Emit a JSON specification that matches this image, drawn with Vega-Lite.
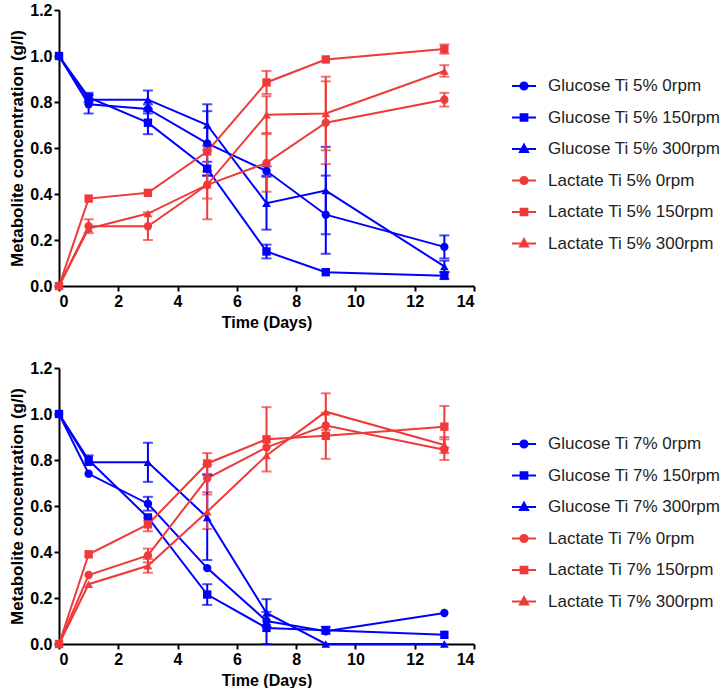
{
  "$schema": "https://vega.github.io/schema/vega-lite/v6.json",
  "padding": {"left": 8, "top": 2, "right": 0, "bottom": 0},
  "spacing": 30,
  "background": "white",
  "config": {
    "view": {"stroke": null},
    "axis": {"domainColor": "#000", "domainWidth": 2, "tickColor": "#000", "tickWidth": 2, "tickSize": 5, "labelFont": "Liberation Sans", "labelFontWeight": "bold", "labelFontSize": 16, "labelColor": "#000", "labelPadding": 2, "titleFont": "Liberation Sans", "titleFontWeight": "bold", "titleFontSize": 16, "titleColor": "#000", "grid": false},
    "legend": {"orient": "none", "legendX": 452, "legendY": 63, "padding": 0, "symbolSize": 576, "symbolStrokeWidth": 2, "symbolOpacity": 1, "labelFont": "Liberation Sans", "labelFontSize": 17, "labelColor": "#222", "labelOffset": 11, "rowPadding": 10.5, "labelLimit": 300}
  },
  "resolve": {"scale": {"color": "independent"}},
  "datasets": {
    "p5": [
      {"s": "Glucose Ti 5% 0rpm", "t": 0, "v": 1.0, "lo": null, "hi": null},
      {"s": "Glucose Ti 5% 0rpm", "t": 1, "v": 0.79, "lo": 0.75, "hi": 0.83},
      {"s": "Glucose Ti 5% 0rpm", "t": 3, "v": 0.77, "lo": 0.75, "hi": 0.79},
      {"s": "Glucose Ti 5% 0rpm", "t": 5, "v": 0.62, "lo": 0.48, "hi": 0.76},
      {"s": "Glucose Ti 5% 0rpm", "t": 7, "v": 0.5, "lo": 0.48, "hi": 0.52},
      {"s": "Glucose Ti 5% 0rpm", "t": 9, "v": 0.31, "lo": 0.14, "hi": 0.48},
      {"s": "Glucose Ti 5% 0rpm", "t": 13, "v": 0.17, "lo": 0.12, "hi": 0.22},
      {"s": "Glucose Ti 5% 150rpm", "t": 0, "v": 1.0, "lo": null, "hi": null},
      {"s": "Glucose Ti 5% 150rpm", "t": 1, "v": 0.82, "lo": 0.8, "hi": 0.84},
      {"s": "Glucose Ti 5% 150rpm", "t": 3, "v": 0.71, "lo": 0.66, "hi": 0.76},
      {"s": "Glucose Ti 5% 150rpm", "t": 5, "v": 0.51, "lo": 0.48, "hi": 0.54},
      {"s": "Glucose Ti 5% 150rpm", "t": 7, "v": 0.15, "lo": 0.12, "hi": 0.18},
      {"s": "Glucose Ti 5% 150rpm", "t": 9, "v": 0.06, "lo": null, "hi": null},
      {"s": "Glucose Ti 5% 150rpm", "t": 13, "v": 0.045, "lo": 0.03, "hi": 0.06},
      {"s": "Glucose Ti 5% 300rpm", "t": 0, "v": 1.0, "lo": null, "hi": null},
      {"s": "Glucose Ti 5% 300rpm", "t": 1, "v": 0.81, "lo": null, "hi": null},
      {"s": "Glucose Ti 5% 300rpm", "t": 3, "v": 0.81, "lo": 0.77, "hi": 0.85},
      {"s": "Glucose Ti 5% 300rpm", "t": 5, "v": 0.7, "lo": 0.61, "hi": 0.79},
      {"s": "Glucose Ti 5% 300rpm", "t": 7, "v": 0.36, "lo": 0.245, "hi": 0.475},
      {"s": "Glucose Ti 5% 300rpm", "t": 9, "v": 0.415, "lo": 0.225, "hi": 0.605},
      {"s": "Glucose Ti 5% 300rpm", "t": 13, "v": 0.085, "lo": 0.06, "hi": 0.11},
      {"s": "Lactate Ti 5% 0rpm", "t": 0, "v": 0.0, "lo": null, "hi": null},
      {"s": "Lactate Ti 5% 0rpm", "t": 1, "v": 0.26, "lo": 0.23, "hi": 0.29},
      {"s": "Lactate Ti 5% 0rpm", "t": 3, "v": 0.26, "lo": 0.2, "hi": 0.32},
      {"s": "Lactate Ti 5% 0rpm", "t": 5, "v": 0.44, "lo": 0.29, "hi": 0.59},
      {"s": "Lactate Ti 5% 0rpm", "t": 7, "v": 0.535, "lo": 0.41, "hi": 0.66},
      {"s": "Lactate Ti 5% 0rpm", "t": 9, "v": 0.71, "lo": 0.53, "hi": 0.89},
      {"s": "Lactate Ti 5% 0rpm", "t": 13, "v": 0.81, "lo": 0.78, "hi": 0.84},
      {"s": "Lactate Ti 5% 150rpm", "t": 0, "v": 0.0, "lo": null, "hi": null},
      {"s": "Lactate Ti 5% 150rpm", "t": 1, "v": 0.38, "lo": null, "hi": null},
      {"s": "Lactate Ti 5% 150rpm", "t": 3, "v": 0.405, "lo": null, "hi": null},
      {"s": "Lactate Ti 5% 150rpm", "t": 5, "v": 0.585, "lo": null, "hi": null},
      {"s": "Lactate Ti 5% 150rpm", "t": 7, "v": 0.885, "lo": 0.835, "hi": 0.935},
      {"s": "Lactate Ti 5% 150rpm", "t": 9, "v": 0.985, "lo": null, "hi": null},
      {"s": "Lactate Ti 5% 150rpm", "t": 13, "v": 1.03, "lo": 1.01, "hi": 1.05},
      {"s": "Lactate Ti 5% 300rpm", "t": 0, "v": 0.0, "lo": null, "hi": null},
      {"s": "Lactate Ti 5% 300rpm", "t": 1, "v": 0.25, "lo": null, "hi": null},
      {"s": "Lactate Ti 5% 300rpm", "t": 3, "v": 0.315, "lo": null, "hi": null},
      {"s": "Lactate Ti 5% 300rpm", "t": 5, "v": 0.44, "lo": 0.38, "hi": 0.5},
      {"s": "Lactate Ti 5% 300rpm", "t": 7, "v": 0.745, "lo": 0.665, "hi": 0.825},
      {"s": "Lactate Ti 5% 300rpm", "t": 9, "v": 0.75, "lo": 0.59, "hi": 0.91},
      {"s": "Lactate Ti 5% 300rpm", "t": 13, "v": 0.935, "lo": 0.91, "hi": 0.96}
    ],
    "p7": [
      {"s": "Glucose Ti 7% 0rpm", "t": 0, "v": 1.0, "lo": null, "hi": null},
      {"s": "Glucose Ti 7% 0rpm", "t": 1, "v": 0.74, "lo": null, "hi": null},
      {"s": "Glucose Ti 7% 0rpm", "t": 3, "v": 0.61, "lo": 0.58, "hi": 0.64},
      {"s": "Glucose Ti 7% 0rpm", "t": 5, "v": 0.33, "lo": null, "hi": null},
      {"s": "Glucose Ti 7% 0rpm", "t": 7, "v": 0.1, "lo": null, "hi": null},
      {"s": "Glucose Ti 7% 0rpm", "t": 9, "v": 0.055, "lo": null, "hi": null},
      {"s": "Glucose Ti 7% 0rpm", "t": 13, "v": 0.135, "lo": null, "hi": null},
      {"s": "Glucose Ti 7% 150rpm", "t": 0, "v": 1.0, "lo": null, "hi": null},
      {"s": "Glucose Ti 7% 150rpm", "t": 1, "v": 0.8, "lo": 0.78, "hi": 0.82},
      {"s": "Glucose Ti 7% 150rpm", "t": 3, "v": 0.55, "lo": null, "hi": null},
      {"s": "Glucose Ti 7% 150rpm", "t": 5, "v": 0.215, "lo": 0.17, "hi": 0.26},
      {"s": "Glucose Ti 7% 150rpm", "t": 7, "v": 0.07, "lo": 0.0, "hi": 0.14},
      {"s": "Glucose Ti 7% 150rpm", "t": 9, "v": 0.06, "lo": 0.045, "hi": 0.075},
      {"s": "Glucose Ti 7% 150rpm", "t": 13, "v": 0.04, "lo": null, "hi": null},
      {"s": "Glucose Ti 7% 300rpm", "t": 0, "v": 1.0, "lo": null, "hi": null},
      {"s": "Glucose Ti 7% 300rpm", "t": 1, "v": 0.79, "lo": null, "hi": null},
      {"s": "Glucose Ti 7% 300rpm", "t": 3, "v": 0.79, "lo": 0.705, "hi": 0.875},
      {"s": "Glucose Ti 7% 300rpm", "t": 5, "v": 0.55, "lo": 0.365, "hi": 0.735},
      {"s": "Glucose Ti 7% 300rpm", "t": 7, "v": 0.135, "lo": 0.075, "hi": 0.195},
      {"s": "Glucose Ti 7% 300rpm", "t": 9, "v": 0.0, "lo": null, "hi": null},
      {"s": "Glucose Ti 7% 300rpm", "t": 13, "v": 0.0, "lo": null, "hi": null},
      {"s": "Lactate Ti 7% 0rpm", "t": 0, "v": 0.0, "lo": null, "hi": null},
      {"s": "Lactate Ti 7% 0rpm", "t": 1, "v": 0.3, "lo": null, "hi": null},
      {"s": "Lactate Ti 7% 0rpm", "t": 3, "v": 0.385, "lo": 0.355, "hi": 0.415},
      {"s": "Lactate Ti 7% 0rpm", "t": 5, "v": 0.72, "lo": 0.66, "hi": 0.78},
      {"s": "Lactate Ti 7% 0rpm", "t": 7, "v": 0.855, "lo": null, "hi": null},
      {"s": "Lactate Ti 7% 0rpm", "t": 9, "v": 0.95, "lo": null, "hi": null},
      {"s": "Lactate Ti 7% 0rpm", "t": 13, "v": 0.845, "lo": 0.8, "hi": 0.89},
      {"s": "Lactate Ti 7% 150rpm", "t": 0, "v": 0.0, "lo": null, "hi": null},
      {"s": "Lactate Ti 7% 150rpm", "t": 1, "v": 0.39, "lo": null, "hi": null},
      {"s": "Lactate Ti 7% 150rpm", "t": 3, "v": 0.52, "lo": 0.49, "hi": 0.55},
      {"s": "Lactate Ti 7% 150rpm", "t": 5, "v": 0.785, "lo": 0.74, "hi": 0.83},
      {"s": "Lactate Ti 7% 150rpm", "t": 7, "v": 0.89, "lo": 0.75, "hi": 1.03},
      {"s": "Lactate Ti 7% 150rpm", "t": 9, "v": 0.905, "lo": 0.805, "hi": 1.005},
      {"s": "Lactate Ti 7% 150rpm", "t": 13, "v": 0.945, "lo": 0.855, "hi": 1.035},
      {"s": "Lactate Ti 7% 300rpm", "t": 0, "v": 0.0, "lo": null, "hi": null},
      {"s": "Lactate Ti 7% 300rpm", "t": 1, "v": 0.26, "lo": null, "hi": null},
      {"s": "Lactate Ti 7% 300rpm", "t": 3, "v": 0.34, "lo": 0.31, "hi": 0.37},
      {"s": "Lactate Ti 7% 300rpm", "t": 5, "v": 0.575, "lo": 0.5, "hi": 0.65},
      {"s": "Lactate Ti 7% 300rpm", "t": 7, "v": 0.82, "lo": null, "hi": null},
      {"s": "Lactate Ti 7% 300rpm", "t": 9, "v": 1.01, "lo": 0.93, "hi": 1.09},
      {"s": "Lactate Ti 7% 300rpm", "t": 13, "v": 0.865, "lo": 0.83, "hi": 0.9}
    ]
  },
  "vconcat": [
    {
      "width": 415, "height": 276,
      "data": {"name": "p5"},
      "layer": [
        {
          "mark": {"type": "line", "strokeWidth": 2},
          "encoding": {
            "x": {"field": "t", "type": "quantitative", "scale": {"domain": [0, 14], "nice": false}, "axis": {"values": [0, 2, 4, 6, 8, 10, 12, 14], "format": "d", "title": "Time (Days)", "titlePadding": 5}},
            "y": {"field": "v", "type": "quantitative", "scale": {"domain": [0, 1.2], "nice": false}, "axis": {"values": [0, 0.2, 0.4, 0.6, 0.8, 1.0, 1.2], "format": ".1f", "title": "Metabolite concentration (g/l)", "titleFontSize": 17, "titlePadding": 3}},
            "color": {"field": "s", "type": "nominal", "scale": {"domain": ["Glucose Ti 5% 0rpm", "Glucose Ti 5% 150rpm", "Glucose Ti 5% 300rpm", "Lactate Ti 5% 0rpm", "Lactate Ti 5% 150rpm", "Lactate Ti 5% 300rpm"], "range": ["#0000ff", "#0000ff", "#0000ff", "#ef3a3a", "#ef3a3a", "#ef3a3a"]},
              "legend": {"title": null, "encode": {"symbols": {"update": {
                "shape": {"signal": "test(/ 0rpm$/, datum.value) ? 'M-1,0H1M-0.3,0A0.3,0.3 0 1,0 0.3,0A0.3,0.3 0 1,0 -0.3,0Z' : test(/ 150rpm$/, datum.value) ? 'M-1,0H1M-0.28,-0.28H0.28V0.28H-0.28Z' : 'M-1,0H1M0,-0.36L0.34,0.26H-0.34Z'"},
                "fill": {"signal": "test(/^Glucose/, datum.value) ? '#0000ff' : '#ef3a3a'"},
                "stroke": {"signal": "test(/^Glucose/, datum.value) ? '#0000ff' : '#ef3a3a'"},
                "strokeWidth": {"value": 2},
                "size": {"value": 576},
                "opacity": {"value": 1}
              }}}}
            }
          }
        },
        {
          "transform": [{"filter": "datum.lo != null"}],
          "mark": {"type": "errorbar", "ticks": {"size": 10, "thickness": 2}, "thickness": 2},
          "encoding": {
            "x": {"field": "t", "type": "quantitative"},
            "y": {"field": "lo", "type": "quantitative", "title": "Metabolite concentration (g/l)"},
            "y2": {"field": "hi"},
            "color": {"field": "s", "type": "nominal"}
          }
        },
        {
          "transform": [{"filter": "test(/ 0rpm$/, datum.s)"}],
          "mark": {"type": "point", "filled": true, "opacity": 1, "size": 70, "shape": "circle"},
          "encoding": {
            "x": {"field": "t", "type": "quantitative"},
            "y": {"field": "v", "type": "quantitative", "title": "Metabolite concentration (g/l)"},
            "color": {"field": "s", "type": "nominal"}
          }
        },
        {
          "transform": [{"filter": "test(/ 150rpm$/, datum.s)"}],
          "mark": {"type": "point", "filled": true, "opacity": 1, "size": 70, "shape": "square"},
          "encoding": {
            "x": {"field": "t", "type": "quantitative"},
            "y": {"field": "v", "type": "quantitative", "title": "Metabolite concentration (g/l)"},
            "color": {"field": "s", "type": "nominal"}
          }
        },
        {
          "transform": [{"filter": "test(/ 300rpm$/, datum.s)"}],
          "mark": {"type": "point", "filled": true, "opacity": 1, "size": 75, "shape": "triangle-up"},
          "encoding": {
            "x": {"field": "t", "type": "quantitative"},
            "y": {"field": "v", "type": "quantitative", "title": "Metabolite concentration (g/l)"},
            "color": {"field": "s", "type": "nominal"}
          }
        }
      ]
    },
    {
      "width": 415, "height": 276,
      "data": {"name": "p7"},
      "layer": [
        {
          "mark": {"type": "line", "strokeWidth": 2},
          "encoding": {
            "x": {"field": "t", "type": "quantitative", "scale": {"domain": [0, 14], "nice": false}, "axis": {"values": [0, 2, 4, 6, 8, 10, 12, 14], "format": "d", "title": "Time (Days)", "titlePadding": 5}},
            "y": {"field": "v", "type": "quantitative", "scale": {"domain": [0, 1.2], "nice": false}, "axis": {"values": [0, 0.2, 0.4, 0.6, 0.8, 1.0, 1.2], "format": ".1f", "title": "Metabolite concentration (g/l)", "titleFontSize": 17, "titlePadding": 3}},
            "color": {"field": "s", "type": "nominal", "scale": {"domain": ["Glucose Ti 7% 0rpm", "Glucose Ti 7% 150rpm", "Glucose Ti 7% 300rpm", "Lactate Ti 7% 0rpm", "Lactate Ti 7% 150rpm", "Lactate Ti 7% 300rpm"], "range": ["#0000ff", "#0000ff", "#0000ff", "#ef3a3a", "#ef3a3a", "#ef3a3a"]},
              "legend": {"title": null, "encode": {"symbols": {"update": {
                "shape": {"signal": "test(/ 0rpm$/, datum.value) ? 'M-1,0H1M-0.3,0A0.3,0.3 0 1,0 0.3,0A0.3,0.3 0 1,0 -0.3,0Z' : test(/ 150rpm$/, datum.value) ? 'M-1,0H1M-0.28,-0.28H0.28V0.28H-0.28Z' : 'M-1,0H1M0,-0.36L0.34,0.26H-0.34Z'"},
                "fill": {"signal": "test(/^Glucose/, datum.value) ? '#0000ff' : '#ef3a3a'"},
                "stroke": {"signal": "test(/^Glucose/, datum.value) ? '#0000ff' : '#ef3a3a'"},
                "strokeWidth": {"value": 2},
                "size": {"value": 576},
                "opacity": {"value": 1}
              }}}}
            }
          }
        },
        {
          "transform": [{"filter": "datum.lo != null"}],
          "mark": {"type": "errorbar", "ticks": {"size": 10, "thickness": 2}, "thickness": 2},
          "encoding": {
            "x": {"field": "t", "type": "quantitative"},
            "y": {"field": "lo", "type": "quantitative", "title": "Metabolite concentration (g/l)"},
            "y2": {"field": "hi"},
            "color": {"field": "s", "type": "nominal"}
          }
        },
        {
          "transform": [{"filter": "test(/ 0rpm$/, datum.s)"}],
          "mark": {"type": "point", "filled": true, "opacity": 1, "size": 70, "shape": "circle"},
          "encoding": {
            "x": {"field": "t", "type": "quantitative"},
            "y": {"field": "v", "type": "quantitative", "title": "Metabolite concentration (g/l)"},
            "color": {"field": "s", "type": "nominal"}
          }
        },
        {
          "transform": [{"filter": "test(/ 150rpm$/, datum.s)"}],
          "mark": {"type": "point", "filled": true, "opacity": 1, "size": 70, "shape": "square"},
          "encoding": {
            "x": {"field": "t", "type": "quantitative"},
            "y": {"field": "v", "type": "quantitative", "title": "Metabolite concentration (g/l)"},
            "color": {"field": "s", "type": "nominal"}
          }
        },
        {
          "transform": [{"filter": "test(/ 300rpm$/, datum.s)"}],
          "mark": {"type": "point", "filled": true, "opacity": 1, "size": 75, "shape": "triangle-up"},
          "encoding": {
            "x": {"field": "t", "type": "quantitative"},
            "y": {"field": "v", "type": "quantitative", "title": "Metabolite concentration (g/l)"},
            "color": {"field": "s", "type": "nominal"}
          }
        }
      ]
    }
  ]
}
